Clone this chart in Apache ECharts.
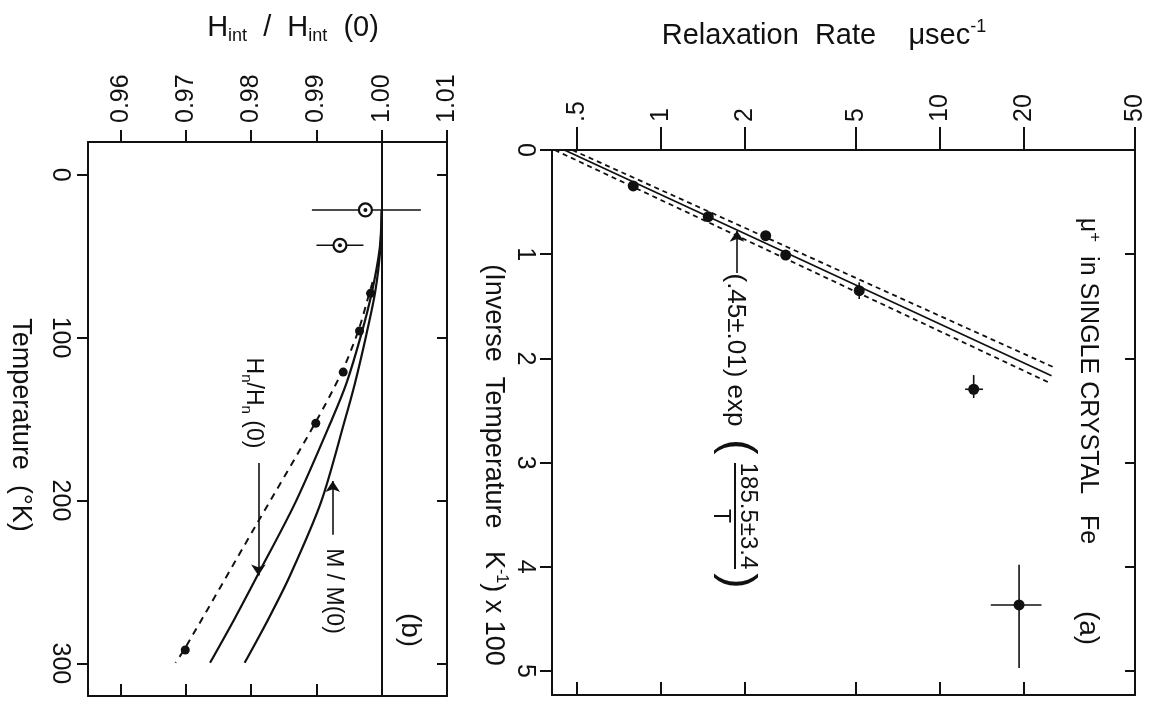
<!DOCTYPE html>
<html>
<head>
<meta charset="utf-8">
<script src="https://cdn.jsdelivr.net/npm/echarts@6/dist/echarts.min.js"></script>
<style>
  html, body { margin: 0; padding: 0; background: #fff; }
  #chart { width: 1151px; height: 708px; }
</style>
</head>
<body>
<div id="chart"></div>
<script>
// ---- panel (b): H_int / H_int(0) against temperature ----
const tempTicks = [0, 100, 200, 300];
const ratioTicks = [0.96, 0.97, 0.98, 0.99, 1.00, 1.01];
// open circles: [ratio, T, ratio low, ratio high]
const openPoints = [[0.9975, 21.7, 0.9893, 1.0060], [0.9936, 43.4, 0.9900, 0.9972]];
// filled dots: [ratio, T]
const filledPoints = [[0.9983, 72.9], [0.9966, 96.0], [0.9941, 121.2], [0.9899, 152.6], [0.9699, 291.8]];
const filledErr = [[0.9983, 72.9, 0.9976, 0.9990]];
const hnDashed = [[0.9986, 66], [0.9981, 72.9], [0.9964, 96], [0.9939, 121], [0.9898, 152.5],
                  [0.9807, 215.5], [0.9697, 291.8], [0.9684, 299.6]];
const hnCurve = [[1.0, 22], [0.9997, 45], [0.9985, 72], [0.9968, 99], [0.9946, 128], [0.9924, 150],
                 [0.9868, 201], [0.9809, 246.5], [0.9774, 273], [0.9737, 299.6]];
const mCurve = [[1.0, 22], [0.9998, 45], [0.9990, 72], [0.9976, 99], [0.9959, 128], [0.9944, 150],
                [0.9907, 201], [0.9859, 246.5], [0.9826, 273], [0.9790, 299.6]];

// ---- panel (a): relaxation rate against inverse temperature ----
const invTempTicks = [0, 1, 2, 3, 4, 5];
const rateTicks = [0.5, 1, 2, 5, 10, 20, 50];
const rateTickLabels = ['.5', '1', '2', '5', '10', '20', '50'];
const rateMin = 0.406;
const rateMax = 50;
// [rate, invT]
const ratePoints = [[0.794, 0.345], [1.475, 0.640], [2.37, 0.822], [2.795, 1.008],
                    [5.13, 1.350], [13.2, 2.296], [19.2, 4.366]];
// [rate, invT, rate low, rate high, invT low, invT high]
const rateErr = [[5.13, 1.350, 5.13, 5.13, 1.27, 1.43],
                 [13.2, 2.296, 12.3, 14.25, 2.16, 2.38],
                 [19.2, 4.366, 15.2, 23.1, 3.98, 4.97]];
const fitLine = [[0.45, 0], [25.1, 2.166]];
const fitUpper = [[0.48, 0], [25.8, 2.09]];
const fitLower = [[0.415, 0], [24.8, 2.237]];

const ink = '#111';
const font = 'Liberation Sans, Arial, sans-serif';

function frameAxis(extra) {
  return Object.assign({
    axisLine: { show: true, onZero: false, lineStyle: { color: ink, width: 2 } },
    splitLine: { show: false },
    axisLabel: { show: false },
    axisPointer: { show: false }
  }, extra);
}

function tickLabel(margin, values, formatter) {
  return {
    show: true, rotate: -90, margin: margin, customValues: values,
    fontSize: 25, fontFamily: font, color: ink, formatter: formatter
  };
}

function barLine(a, b) {
  return { type: 'line', shape: { x1: a[0], y1: a[1], x2: b[0], y2: b[1] },
           style: { stroke: ink, lineWidth: 1.6 } };
}

function hBar(params, api) {
  const a = api.coord([api.value(2), api.value(1)]);
  const b = api.coord([api.value(3), api.value(1)]);
  return barLine(a, b);
}

function crossBar(params, api) {
  const kids = [];
  if (api.value(2) !== api.value(3)) {
    kids.push(barLine(api.coord([api.value(2), api.value(1)]), api.coord([api.value(3), api.value(1)])));
  }
  kids.push(barLine(api.coord([api.value(0), api.value(4)]), api.coord([api.value(0), api.value(5)])));
  return { type: 'group', children: kids };
}

function vtext(x, y, text, size, rich) {
  return {
    type: 'text', x: x, y: y, rotation: -Math.PI / 2, silent: true,
    style: { text: text, fontSize: size, fontFamily: font, fill: ink,
             align: 'center', verticalAlign: 'middle', rich: rich || {} }
  };
}

function richStyle(main, small, smallAlign) {
  return {
    m: { fontSize: main, fontFamily: font, lineHeight: main + 6, verticalAlign: 'middle' },
    s: { fontSize: small, fontFamily: font, lineHeight: main + 6, verticalAlign: smallAlign }
  };
}

const chart = echarts.init(document.getElementById('chart'));

const option = {
  animation: false,
  backgroundColor: '#fff',
  grid: [
    { left: 88, top: 142, width: 359, height: 554, outerBoundsMode: 'none' },
    { left: 552, top: 150, width: 583, height: 545, outerBoundsMode: 'none' }
  ],
  xAxis: [
    frameAxis({ gridIndex: 0, type: 'value', position: 'top', min: 0.955, max: 1.01,
      axisTick: { show: true, inside: false, length: 12, customValues: ratioTicks, lineStyle: { color: ink, width: 2 } },
      axisLabel: tickLabel(19, ratioTicks, v => v.toFixed(2)) }),
    frameAxis({ gridIndex: 0, type: 'value', position: 'bottom', min: 0.955, max: 1.01,
      axisTick: { show: true, inside: true, length: 12, customValues: ratioTicks, lineStyle: { color: ink, width: 2 } } }),
    // tick axes of panel (a), laid out in log10 units of the rate
    frameAxis({ gridIndex: 1, type: 'value', position: 'top', min: Math.log10(rateMin), max: Math.log10(rateMax),
      axisTick: { show: true, inside: false, length: 23, customValues: rateTicks.map(Math.log10), lineStyle: { color: ink, width: 2 } },
      axisLabel: tickLabel(28, rateTicks.map(Math.log10), v => {
        let best = 0;
        rateTicks.forEach((t, i) => { if (Math.abs(Math.log10(t) - v) < Math.abs(Math.log10(rateTicks[best]) - v)) best = i; });
        return rateTickLabels[best];
      }) }),
    frameAxis({ gridIndex: 1, type: 'value', position: 'bottom', min: Math.log10(rateMin), max: Math.log10(rateMax),
      axisTick: { show: true, inside: true, length: 13, customValues: rateTicks.map(Math.log10), lineStyle: { color: ink, width: 2 } } }),
    // data axis of panel (a)
    { gridIndex: 1, type: 'log', show: false, min: rateMin, max: rateMax, logBase: 10 }
  ],
  yAxis: [
    frameAxis({ gridIndex: 0, type: 'value', position: 'left', inverse: true, min: -20, max: 320,
      axisTick: { show: true, inside: false, length: 11, customValues: tempTicks, lineStyle: { color: ink, width: 2 } },
      axisLabel: tickLabel(16, tempTicks, v => String(v)) }),
    frameAxis({ gridIndex: 0, type: 'value', position: 'right', inverse: true, min: -20, max: 320,
      axisTick: { show: true, inside: true, length: 10, customValues: tempTicks, lineStyle: { color: ink, width: 2 } } }),
    frameAxis({ gridIndex: 1, type: 'value', position: 'left', inverse: true, min: 0, max: 5.23,
      axisTick: { show: true, inside: false, length: 12, customValues: invTempTicks, lineStyle: { color: ink, width: 2 } },
      axisLabel: tickLabel(15, invTempTicks, v => String(v)) }),
    frameAxis({ gridIndex: 1, type: 'value', position: 'right', inverse: true, min: 0, max: 5.23,
      axisTick: { show: true, inside: true, length: 10, customValues: invTempTicks, lineStyle: { color: ink, width: 2 } } })
  ],
  series: [
    // panel (b)
    { type: 'line', xAxisIndex: 0, yAxisIndex: 0, data: hnDashed, smooth: 0.3, symbol: 'none',
      lineStyle: { color: ink, width: 2, type: [7, 6] },
      markLine: { silent: true, symbol: 'none', label: { show: false },
        lineStyle: { color: ink, width: 2, type: 'solid' }, data: [{ xAxis: 1.0 }] } },
    { type: 'line', xAxisIndex: 0, yAxisIndex: 0, data: hnCurve, smooth: 0.3, symbol: 'none',
      lineStyle: { color: ink, width: 2.2 },
      markLine: { silent: true, symbol: ['none', 'arrow'], symbolSize: 11, label: { show: false },
        lineStyle: { color: ink, width: 1.6, type: 'solid' },
        data: [
          [{ coord: [0.9811, 177] }, { coord: [0.9811, 246] }],
          [{ coord: [0.9925, 221] }, { coord: [0.9925, 188] }]
        ] } },
    { type: 'line', xAxisIndex: 0, yAxisIndex: 0, data: mCurve, smooth: 0.3, symbol: 'none',
      lineStyle: { color: ink, width: 2.2 } },
    { type: 'custom', xAxisIndex: 0, yAxisIndex: 0, data: openPoints.concat(filledErr), renderItem: hBar,
      encode: { x: 0, y: 1 }, silent: true },
    { type: 'scatter', xAxisIndex: 0, yAxisIndex: 0, data: openPoints, symbolSize: 13,
      itemStyle: { color: '#fff', borderColor: ink, borderWidth: 2.2, opacity: 1 }, silent: true },
    { type: 'scatter', xAxisIndex: 0, yAxisIndex: 0, data: openPoints, symbolSize: 4,
      itemStyle: { color: ink, opacity: 1 }, silent: true },
    { type: 'scatter', xAxisIndex: 0, yAxisIndex: 0, data: filledPoints, symbolSize: 9,
      itemStyle: { color: ink, opacity: 1 }, silent: true },
    // panel (a)
    { type: 'line', xAxisIndex: 4, yAxisIndex: 2, data: fitLine, symbol: 'none',
      lineStyle: { color: ink, width: 1.8 },
      markLine: { silent: true, symbol: ['none', 'arrow'], symbolSize: 11, label: { show: false },
        lineStyle: { color: ink, width: 1.6, type: 'solid' },
        data: [[{ coord: [1.87, 1.18] }, { coord: [1.87, 0.775] }]] } },
    { type: 'line', xAxisIndex: 4, yAxisIndex: 2, data: fitUpper, symbol: 'none',
      lineStyle: { color: ink, width: 1.8, type: [5, 4] } },
    { type: 'line', xAxisIndex: 4, yAxisIndex: 2, data: fitLower, symbol: 'none',
      lineStyle: { color: ink, width: 1.8, type: [5, 4] } },
    { type: 'custom', xAxisIndex: 4, yAxisIndex: 2, data: rateErr, renderItem: crossBar,
      encode: { x: 0, y: 1 }, silent: true },
    { type: 'scatter', xAxisIndex: 4, yAxisIndex: 2, data: ratePoints, symbolSize: 11,
      itemStyle: { color: ink, opacity: 1 }, silent: true }
  ],
  graphic: [
    { type: 'text', x: 293, y: 28, silent: true,
      style: { text: '{m|H}{s|int}{m|  /  H}{s|int}{m|  (0)}', align: 'center', verticalAlign: 'middle', fill: ink,
               rich: richStyle(29, 18, 'bottom') } },
    { type: 'text', x: 824, y: 36, silent: true,
      style: { text: '{m|Relaxation  Rate    \u03bcsec}{s|-1}', align: 'center', verticalAlign: 'middle', fill: ink,
               rich: richStyle(29, 18, 'top') } },
    vtext(20, 425, 'Temperature  (\u00b0K)', 27),
    vtext(493, 465, '{m|(Inverse  Temperature   K}{s|-1}{m|) x 100}', 27, richStyle(27, 16, 'top')),
    vtext(410, 630, '(b)', 28),
    vtext(253, 403, '{m|H}{s|n}{m|/H}{s|n}{m| (0)}', 23, richStyle(23, 15, 'bottom')),
    vtext(333, 591, 'M / M(0)', 23),
    vtext(1088, 381, '{m|\u03bc}{s|+}{m|  in SINGLE CRYSTAL   Fe}', 25, richStyle(25, 17, 'top')),
    vtext(1088, 628, '(a)', 28),
    vtext(735, 350, '(.45\u00b1.01) exp', 26),
    vtext(737, 447, '(', 46),
    vtext(748, 516, '185.5\u00b13.4', 24),
    { type: 'line', silent: true, shape: { x1: 735, y1: 463, x2: 735, y2: 569 },
      style: { stroke: ink, lineWidth: 2 } },
    vtext(720, 516, 'T', 23),
    vtext(737, 581, ')', 46)
  ]
};

chart.setOption(option);
</script>
</body>
</html>
